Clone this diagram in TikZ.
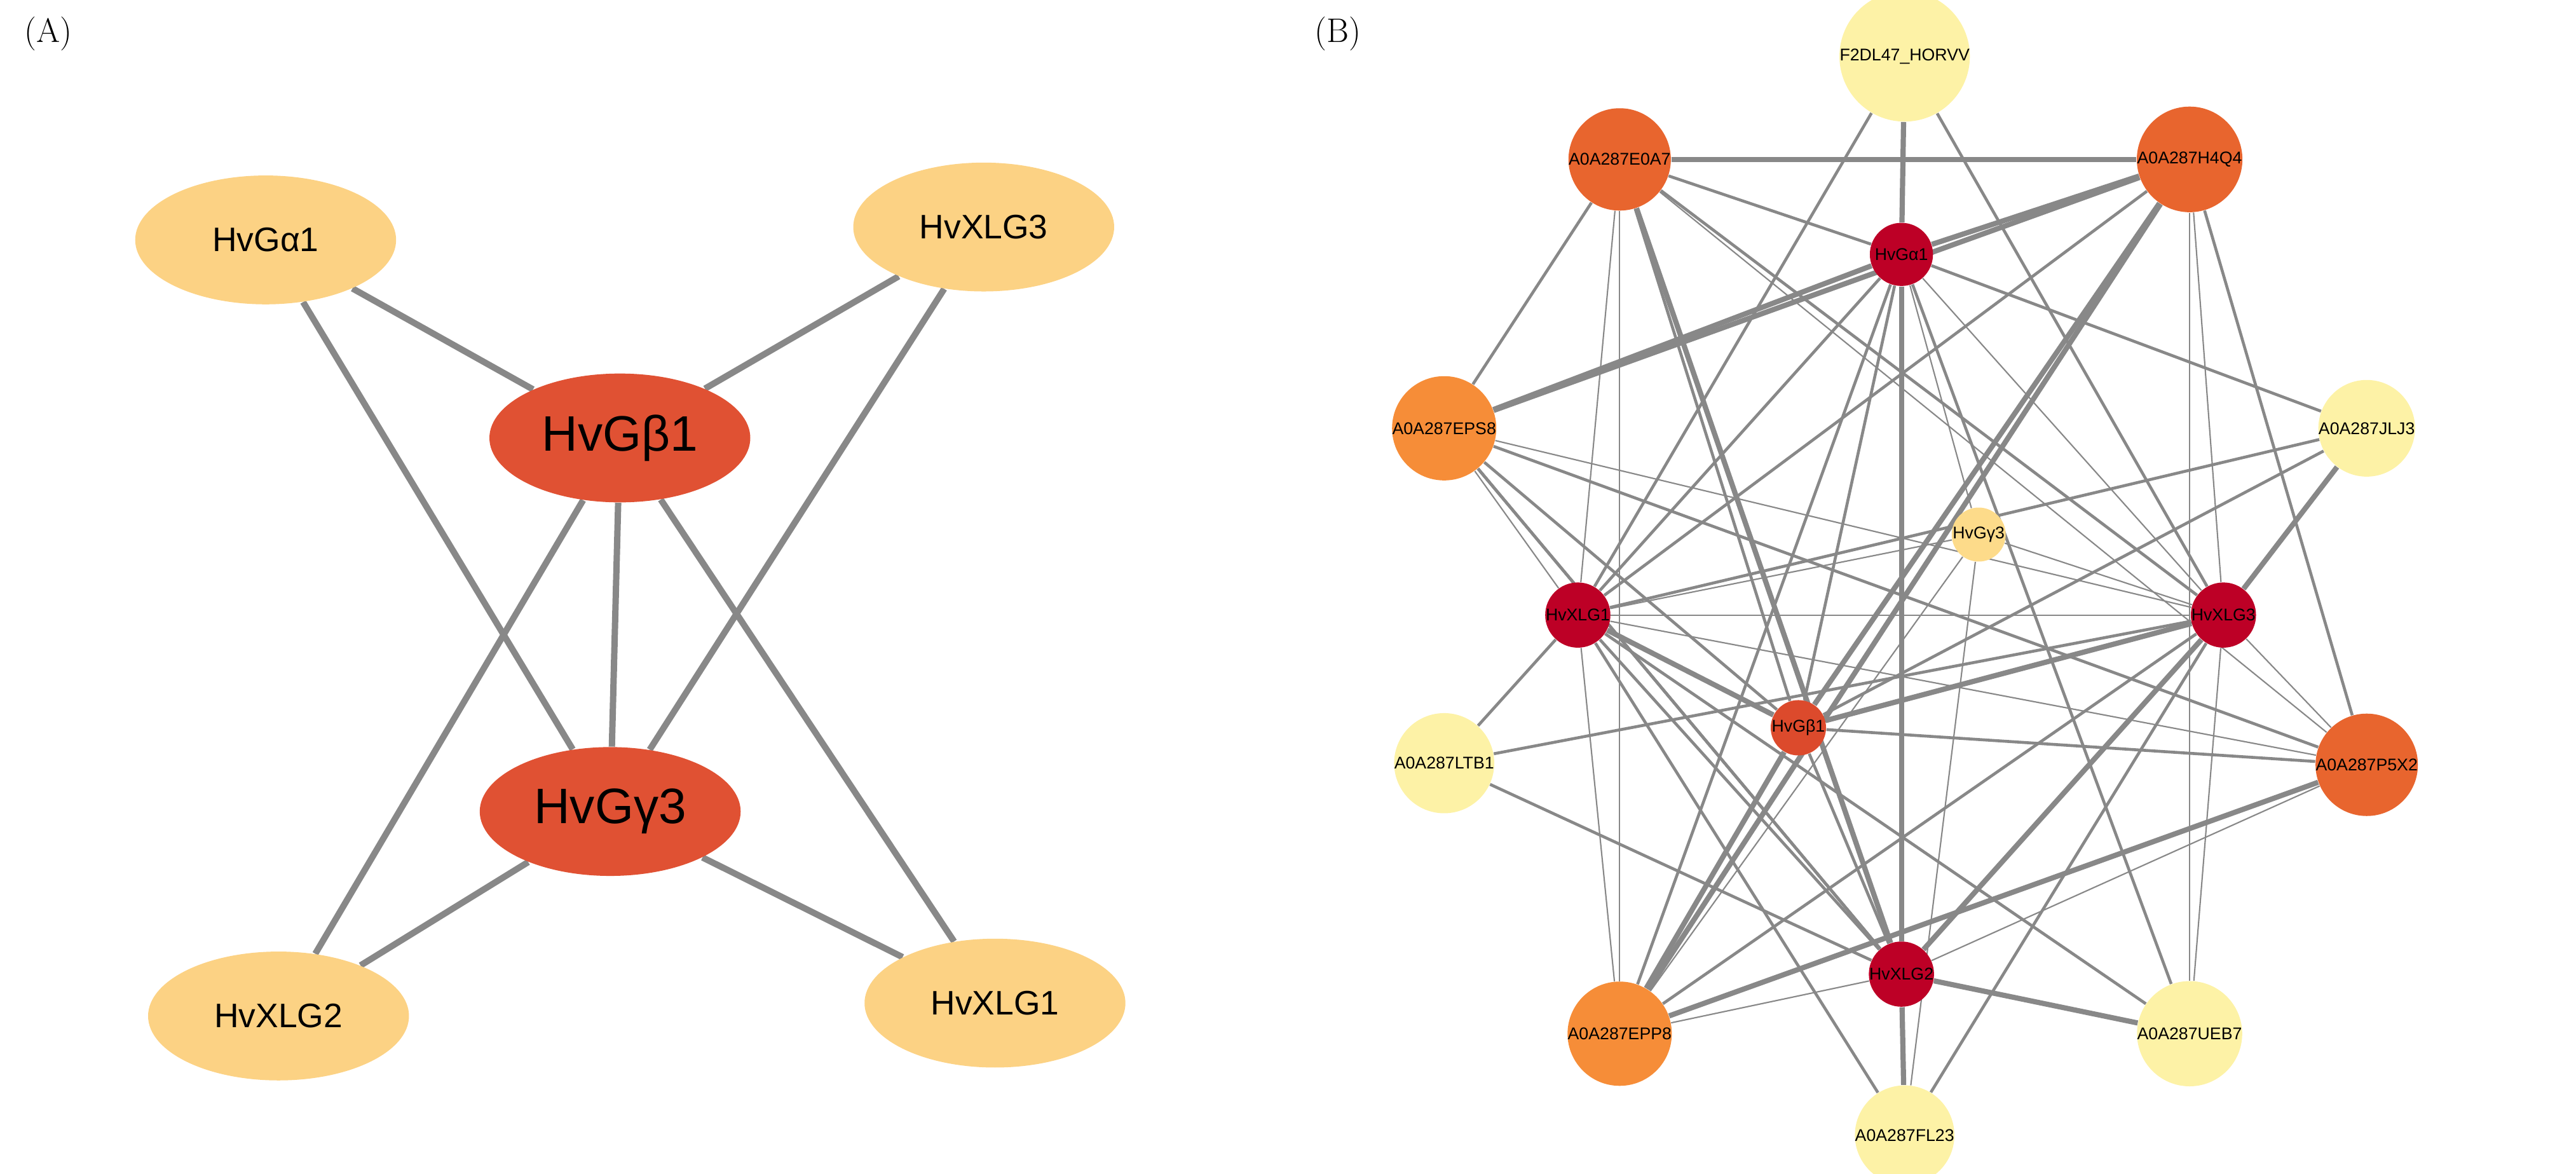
\documentclass[tikz,border=0pt]{standalone}
\usepackage{fontspec}
\setmainfont{Liberation Sans}
\newfontfamily\lmr{Latin Modern Roman}
\usetikzlibrary{shapes.geometric,backgrounds}
\definecolor{lightnode}{HTML}{FCD284}
\definecolor{darknode}{HTML}{E05133}
\definecolor{hubred}{HTML}{BD0026}
\definecolor{midorange}{HTML}{E8652E}
\definecolor{paleorange}{HTML}{F68D38}
\definecolor{betaorange}{HTML}{DC4A2C}
\definecolor{paleyellow}{HTML}{FDF2A6}
\definecolor{gammayellow}{HTML}{FDDB8A}
\definecolor{edgegray}{HTML}{888888}

\begin{document}
\begin{tikzpicture}[x=0.025cm, y=-0.025cm]
    \tikzset{
        oval/.style = {ellipse, minimum width=4.05cm, minimum height=2cm, inner sep=0pt, font=\fontsize{15}{15}\selectfont},
        big/.style = {font=\fontsize{22}{22}\selectfont},
        link/.style = {draw=edgegray, line width=2.8pt},
        prot/.style = {circle, inner sep=0pt, minimum size=#1, font=\fontsize{7.5}{7.5}\selectfont},
        thin/.style = {draw=edgegray, line width=0.6pt},
        med/.style = {draw=edgegray, line width=1.3pt},
        thick/.style = {draw=edgegray, line width=2.3pt},
        panel/.style = {font=\lmr\fontsize{15}{15}\selectfont}
    }
    \useasboundingbox (0,0) rectangle (1600,729);

    % panel A
    \node [panel] (labA) at (30,21) {(A)};
    \node [oval, fill=lightnode] (aGa1) at (165,149) {HvGα1};
    \node [oval, fill=lightnode] (aXLG3) at (611,141) {HvXLG3};
    \node [oval, big, fill=darknode] (aGb1) at (385,272) {HvGβ1};
    \node [oval, big, fill=darknode] (aGg3) at (379,504) {HvGγ3};
    \node [oval, fill=lightnode] (aXLG2) at (173,631) {HvXLG2};
    \node [oval, fill=lightnode] (aXLG1) at (618,623) {HvXLG1};
    \begin{scope}[on background layer]
        \foreach \u/\v in {aGa1/aGb1, aGa1/aGg3, aXLG3/aGb1, aXLG3/aGg3, aGb1/aGg3,
                           aGb1/aXLG2, aGb1/aXLG1, aGg3/aXLG2, aGg3/aXLG1}
            \draw [link] (\u) -- (\v);
    \end{scope}

    % panel B
    \node [panel] (labB) at (831,21) {(B)};
    \node [prot=0.5cm, fill=paleyellow] (F2) at (1183,35) {F2DL47\_HORVV};
    \node [prot=0.8cm, fill=midorange] (E0A7) at (1006,99) {A0A287E0A7};
    \node [prot=0.8cm, fill=midorange] (H4Q4) at (1360,99) {A0A287H4Q4};
    \node [prot=0.98cm, fill=hubred] (Ga1) at (1181,158) {HvGα1};
    \node [prot=0.8cm, fill=paleorange] (EPS8) at (897,266) {A0A287EPS8};
    \node [prot=0.5cm, fill=paleyellow] (JLJ3) at (1470,266) {A0A287JLJ3};
    \node [prot=0.5cm, fill=gammayellow] (Gg3) at (1229,332) {HvGγ3};
    \node [prot=0.98cm, fill=hubred] (XLG1) at (980,382) {HvXLG1};
    \node [prot=0.98cm, fill=hubred] (XLG3) at (1381,382) {HvXLG3};
    \node [prot=0.8cm, fill=betaorange] (Gb1) at (1117,452) {HvGβ1};
    \node [prot=0.5cm, fill=paleyellow] (LTB1) at (897,474) {A0A287LTB1};
    \node [prot=0.8cm, fill=midorange] (P5X2) at (1470,475) {A0A287P5X2};
    \node [prot=0.98cm, fill=hubred] (XLG2) at (1181,605) {HvXLG2};
    \node [prot=0.8cm, fill=paleorange] (EPP8) at (1006,642) {A0A287EPP8};
    \node [prot=0.5cm, fill=paleyellow] (UEB7) at (1360,642) {A0A287UEB7};
    \node [prot=0.5cm, fill=paleyellow] (FL23) at (1183,705) {A0A287FL23};
    \begin{scope}[on background layer]
        % heavy edges
        \foreach \u/\v in {F2/Ga1, Ga1/XLG2, XLG2/FL23, E0A7/H4Q4, H4Q4/Ga1, H4Q4/EPS8,
                           H4Q4/Gb1, H4Q4/EPP8, Ga1/EPS8, JLJ3/XLG3, XLG1/Gb1, XLG3/Gb1,
                           Gb1/EPP8, P5X2/EPP8, XLG2/UEB7, E0A7/XLG2, XLG3/XLG2}
            \draw [thick] (\u) -- (\v);
        % medium edges
        \foreach \u/\v in {F2/XLG1, F2/XLG3, E0A7/Ga1, E0A7/EPS8, E0A7/Gb1, E0A7/XLG3,
                           H4Q4/XLG1, H4Q4/P5X2, Ga1/XLG1, Ga1/JLJ3, Ga1/Gb1, Ga1/EPP8,
                           Ga1/UEB7, EPS8/Gb1, EPS8/XLG2, EPS8/P5X2, JLJ3/XLG1, XLG1/LTB1,
                           XLG1/XLG2, XLG1/UEB7, XLG1/FL23, XLG3/LTB1, XLG3/EPP8,
                           XLG3/FL23, Gb1/P5X2, Gb1/XLG2, LTB1/XLG2, XLG2/EPS8, JLJ3/Gb1}
            \draw [med] (\u) -- (\v);
        % light edges
        \foreach \u/\v in {E0A7/XLG1, E0A7/EPP8, E0A7/P5X2, H4Q4/XLG3, H4Q4/UEB7,
                           Ga1/XLG3, Ga1/Gg3, EPS8/XLG1, EPS8/XLG3, XLG1/XLG3,
                           XLG1/EPP8, XLG1/P5X2, XLG3/P5X2, XLG3/UEB7, XLG2/EPP8,
                           P5X2/XLG2, Gg3/EPP8, Gg3/FL23, Gg3/XLG1, Gg3/XLG3}
            \draw [thin] (\u) -- (\v);
    \end{scope}
\end{tikzpicture}
\end{document}
